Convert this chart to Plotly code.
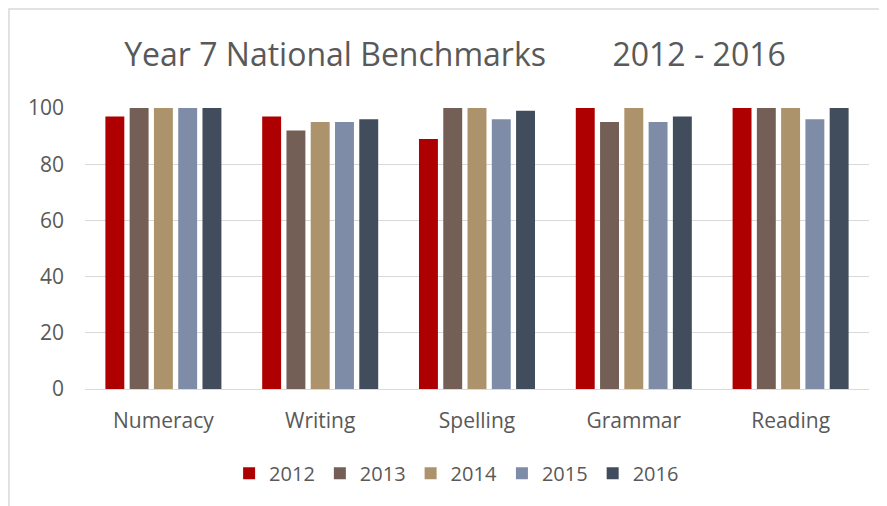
import plotly.graph_objects as go

# Datos de la figura
categorias = ['Numeracy', 'Writing', 'Spelling', 'Grammar', 'Reading']
anios = ['2012', '2013', '2014', '2015', '2016']
valores = {
    '2012': [97, 97, 89, 100, 100],
    '2013': [100, 92, 100, 95, 100],
    '2014': [100, 95, 100, 100, 100],
    '2015': [100, 95, 96, 95, 96],
    '2016': [100, 96, 99, 97, 100],
}
y_ticks = [0, 20, 40, 60, 80, 100]

COLORES = {
    '2012': '#AE0000',
    '2013': '#735F55',
    '2014': '#AC936B',
    '2015': '#7F8CA8',
    '2016': '#414D5C',
}

FUENTE = 'Open Sans, Lato, sans-serif'
GRIS = '#595959'

fig = go.Figure()
for anio in anios:
    fig.add_trace(go.Bar(
        x=categorias,
        y=valores[anio],
        name=anio,
        marker_color=COLORES[anio],
        marker_line_width=0,
    ))

# la pagina tiene 8px de margen en el body -> figura de 879x498
fig.update_layout(
    width=879,
    height=498,
    barmode='group',
    bargap=0.226,
    bargroupgap=0.22,
    plot_bgcolor='white',
    paper_bgcolor='white',
    margin={"l": 77, "r": 18, "t": 100, "b": 117},
    font=dict(family=FUENTE, color=GRIS, size=20),
    title=dict(
        text='Year 7 National Benchmarks\u00a0\u00a0\u00a0\u00a0\u00a0\u00a0\u00a0\u00a02012 - 2016',
        x=0.5085, xanchor='center',
        y=0.906, yanchor='middle',
        font=dict(family=FUENTE, color=GRIS, size=32),
    ),
    legend=dict(
        orientation='h',
        x=0.474, xanchor='center',
        y=-0.30, yanchor='middle',
        font=dict(size=20, color=GRIS),
        itemwidth=30,
        traceorder='normal',
    ),
    showlegend=True,
)

fig.update_yaxes(
    range=[0, 100],
    tickvals=y_ticks,
    showgrid=True,
    gridcolor='#D9D9D9',
    gridwidth=1,
    zeroline=False,
    showline=False,
    ticklabelstandoff=20,
    tickfont=dict(size=21, color=GRIS),
    fixedrange=True,
)
fig.update_xaxes(
    showline=True,
    linecolor='#D9D9D9',
    linewidth=1,
    showgrid=False,
    ticklabelstandoff=13,
    tickfont=dict(size=21, color=GRIS),
    fixedrange=True,
)

# borde del area del grafico (solo se ve izquierda y arriba)
fig.add_shape(
    type='rect', xref='paper', yref='paper',
    x0=-0.097, x1=1.2, y0=-1.0, y1=1.352,
    line=dict(color='#D9D9D9', width=1.5),
    fillcolor='rgba(0,0,0,0)',
    layer='below',
)

fig.write_html("out.html")
